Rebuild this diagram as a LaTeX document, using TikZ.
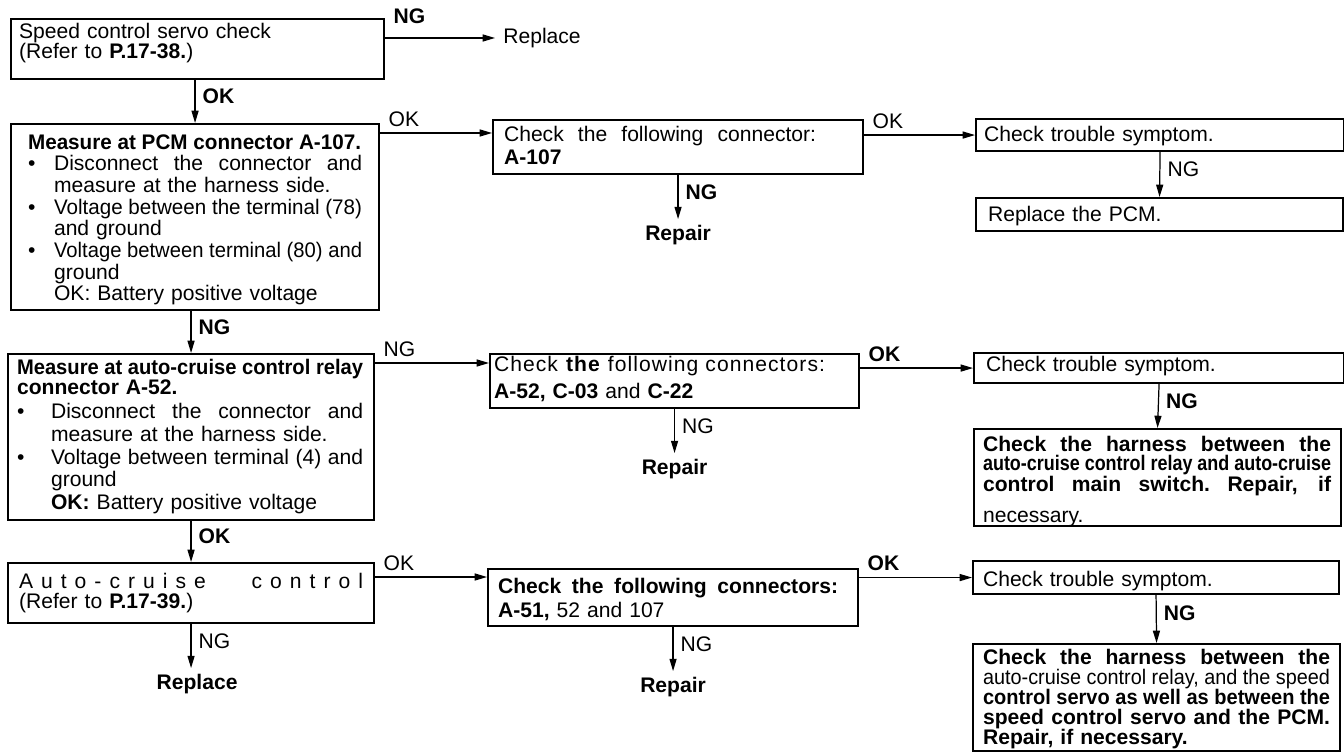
\documentclass[tikz,border=0pt]{standalone}
\usepackage{fontspec}
\usepackage{graphicx}
\setmainfont{Liberation Sans}
\newfontfamily\widefont[LetterSpace=38]{Liberation Sans}
\newfontfamily\loosefont[LetterSpace=5]{Liberation Sans}
\usetikzlibrary{arrows.meta,positioning}

\newlength\px
\setlength\px{0.02cm}
\newsavebox\fitbox
% one line set to a given width (spread or squeezed)
\newcommand{\fitl}[2]{{%
  \spaceskip=0.278em plus 1fil\relax
  \xspaceskip=0.278em plus 1fil\relax
  \sbox\fitbox{#2}%
  \ifdim\wd\fitbox>#1\px
    \resizebox{#1\px}{\height}{\usebox\fitbox}%
  \else
    \makebox[#1\px][s]{#2}%
  \fi}}
\newcommand{\bul}[1]{\makebox[#1\px][l]{\textbullet}}
\newcommand{\ind}[1]{\hspace*{#1\px}}

\begin{document}
\begin{tikzpicture}[
  x=0.02cm, y=-0.02cm,
  font=\fontsize{12}{12}\selectfont,
  box/.style={draw, line width=1.2pt, anchor=north west, align=left, inner ysep=0pt, font=\fontsize{12}{11.4}\selectfont},
  result/.style={font=\fontsize{12}{12}\selectfont\bfseries},
  lab/.style={font=\fontsize{12}{12}\selectfont, inner sep=1.5pt},
  labb/.style={lab, font=\fontsize{12}{12}\selectfont\bfseries},
  vlab/.style={anchor=west, pos=0.38, xshift=2.5pt},
  hlab/.style={anchor=south west, pos=0, xshift=3pt, yshift=2pt},
  arr/.style={-{Triangle[length=7pt,width=4pt]}, line width=0.7pt},
  node distance=0.88cm
]
  \useasboundingbox (0,0) rectangle (1344,756);

  % Servo and PCM checks
  \node[box, inner xsep=8\px, text width=357\px, text height=19\px, text depth=41\px] (servo) at (10,18)
    {Speed control servo check\\(Refer to \textbf{P.17-38.})};
  \node[right, inner xsep=8\px] (rep0) at (495,38) {Replace};
  \node[box, inner xsep=17\px, text width=334\px, text height=25\px, text depth=161\px, font=\fontsize{12}{12.35}\selectfont] (pcm) at (10,123)
    {\fitl{333}{\textbf{Measure at PCM connector A-107.}}\\
     \bul{26}\fitl{308}{Disconnect the connector and}\\
     \ind{26}measure at the harness side.\\
     \bul{26}\fitl{308}{Voltage between the terminal (78)}\\
     \ind{26}and ground\\
     \bul{26}\fitl{308}{Voltage between terminal (80) and}\\
     \ind{26}ground\\
     \ind{26}OK: Battery positive voltage};
  \node[box, inner xsep=11\px, text width=348\px, text height=21\px, text depth=33\px, font=\fontsize{12}{13.1}\selectfont] (conn1) at (492,119)
    {\fitl{312}{Check the following connector:}\\\textbf{A-107}};
  \node[box, inner xsep=8\px, text width=352\px, text height=22\px, text depth=10\px] (sym1) at (975,118) {Check trouble symptom.};
  \node[box, inner xsep=12\px, text width=343\px, text height=23\px, text depth=10\px] (pcmrep) at (975,197) {Replace the PCM.};
  \node[result, below=of conn1] (repair1) {Repair};

  % Relay checks
  \node[box, inner xsep=9\px, text width=348\px, text height=20\px, text depth=146\px, font=\fontsize{12}{12.95}\selectfont] (meas2) at (7,353)
    {\fitl{346}{\textbf{Measure at auto-cruise control relay}}\\[-1.5pt]
     \textbf{connector A-52.}\\[1pt]
     \bul{34}\fitl{312}{Disconnect the connector and}\\
     \ind{34}measure at the harness side.\\
     \bul{34}\fitl{312}{Voltage between terminal (4) and}\\
     \ind{34}ground\\
     \ind{34}\textbf{OK:} Battery positive voltage};
  \node[box, inner xsep=4\px, text width=361\px, text height=17\px, text depth=37\px, font=\fontsize{12}{15.4}\selectfont] (conn2) at (489,353)
    {{\loosefont Check \textbf{the} following connectors:}\\\textbf{A-52, C-03} and \textbf{C-22}};
  \node[box, inner xsep=12\px, text width=346\px, text height=18\px, text depth=12\px] (sym2) at (973,352) {Check trouble symptom.};
  \node[box, inner xsep=9\px, text width=349\px, text height=22\px, text depth=75\px, font=\fontsize{12}{11.1}\selectfont] (harn1) at (973,428)
    {\fitl{348}{\textbf{Check the harness between the}}\\
     \fitl{348}{\textbf{auto-cruise control relay and auto-cruise}}\\
     \fitl{348}{\textbf{control main switch. Repair, if}}\\[6pt]
     necessary.};
  \node[result, below=of conn2] (repair2) {Repair};

  % Auto-cruise control checks
  \node[box, inner xsep=11\px, text width=344\px, text height=25\px, text depth=35\px] (auto) at (7,562)
    {\fitl{344}{\widefont Auto-cruise control}\\(Refer to \textbf{P.17-39.})};
  \node[box, inner xsep=10\px, text width=350\px, text height=24\px, text depth=33\px, font=\fontsize{12}{13.7}\selectfont] (conn3) at (487,568)
    {\fitl{340}{\textbf{Check the following connectors:}}\\\textbf{A-51,} 52 and 107};
  \node[box, inner xsep=10\px, text width=346\px, text height=25\px, text depth=8\px] (sym3) at (972,560) {Check trouble symptom.};
  \node[box, inner xsep=10\px, text width=347\px, text height=20\px, text depth=87\px] (harn2) at (972,643)
    {\fitl{347}{\textbf{Check the harness between the}}\\
     \fitl{347}{auto-cruise control relay, and the speed}\\
     \fitl{347}{\textbf{control servo as well as between the}}\\
     \fitl{347}{\textbf{speed control servo and the PCM.}}\\
     \textbf{Repair, if necessary.}};
  \node[result, below=of auto, xshift=6\px] (replace2) {Replace};
  \node[result, below=of conn3] (repair3) {Repair};

  \coordinate (c1in) at ([yshift=-14\px]conn1.north west);
  \coordinate (c2in) at ([yshift=-10\px]conn2.north west);
  \coordinate (c3in) at ([yshift=-9\px]conn3.north west);

  % Arrows
  \draw[arr] (servo.east |- rep0.west) -- node[labb, hlab, yshift=4pt] {NG} (rep0.west);
  \draw[arr] (pcm.north |- servo.south) -- node[labb, vlab] {OK} (pcm.north);
  \draw[arr] (pcm.east |- c1in) -- node[lab, hlab] {OK} (c1in);
  \draw[arr] (conn1.south) -- node[labb, vlab] {NG} (repair1.north);
  \draw[arr] (conn1.east |- sym1.west) -- node[lab, hlab] {OK} (sym1.west);
  \draw[arr] (sym1.south) -- node[lab, vlab] {NG} (pcmrep.north);
  \draw[arr] (meas2.north |- pcm.south) -- node[labb, vlab] {NG} (meas2.north);
  \draw[arr] (meas2.east |- c2in) -- node[lab, hlab] {NG} (c2in);
  \draw[arr] (conn2.south) -- node[lab, vlab] {NG} (repair2.north);
  \draw[arr] (conn2.east |- sym2.west) -- node[labb, hlab] {OK} (sym2.west);
  \draw[arr] (sym2.south) -- node[labb, vlab] {NG} (harn1.north);
  \draw[arr] (meas2.south) -- node[labb, vlab] {OK} (auto.north);
  \draw[arr] (auto.east |- c3in) -- node[lab, hlab] {OK} (c3in);
  \draw[arr] (auto.south) -- node[lab, vlab] {NG} (auto.south |- replace2.north);
  \draw[arr] (conn3.south) -- node[lab, vlab] {NG} (repair3.north);
  \draw[arr] (conn3.east |- sym3.west) -- node[labb, hlab] {OK} (sym3.west);
  \draw[arr] (sym3.south) -- node[labb, vlab] {NG} (harn2.north);
\end{tikzpicture}
\end{document}
